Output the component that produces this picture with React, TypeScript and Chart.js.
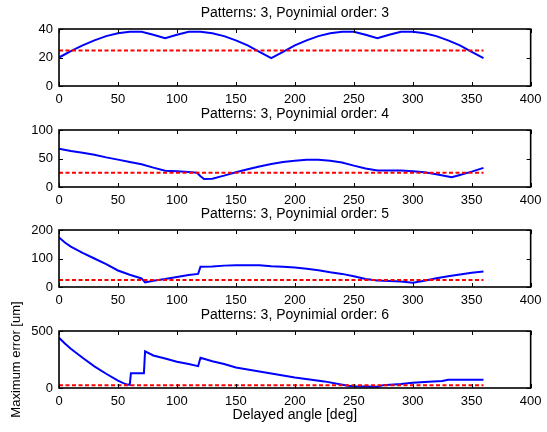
import React, { useEffect, useRef } from "react";
import { Chart, registerables } from "chart.js";

Chart.register(...registerables);

// ---- Data ----
const X_MIN = 0;
const X_MAX = 400;
const X_STEP = 50;

const THRESHOLD_ANGLES = [0, 360];
const THRESHOLD_VALUES = [25, 25];

const TITLES = [
  "Patterns: 3, Poynimial order: 3",
  "Patterns: 3, Poynimial order: 4",
  "Patterns: 3, Poynimial order: 5",
  "Patterns: 3, Poynimial order: 6",
];
const Y_MAXES = [40, 100, 200, 500];
const Y_STEPS = [20, 50, 100, 500];
const X_LABEL = "Delayed angle [deg]";
const Y_LABEL = "Maximum error [um]";

const ANGLE_ORDER3 = [0, 10, 20, 30, 40, 50, 60, 70, 80, 90, 100, 110, 120, 130, 140, 150, 160, 170, 180, 190, 200, 210, 220, 230, 240, 250, 260, 270, 280, 290, 300, 310, 320, 330, 340, 350, 360];
const ERROR_ORDER3 = [20, 24.5, 28.5, 32, 35, 37, 38, 38, 36, 33.5, 36, 38, 38, 37, 35, 32, 28.5, 24, 19.5, 24, 28.5, 32, 35, 37, 38, 38, 36, 33.5, 36, 38, 38, 37, 35, 32, 28.5, 24, 19.5];

const ANGLE_ORDER4 = [0, 10, 20, 30, 40, 50, 60, 70, 80, 90, 100, 110, 117, 120, 123, 130, 140, 150, 160, 170, 180, 190, 200, 210, 220, 230, 240, 250, 260, 270, 280, 290, 300, 310, 320, 333, 340, 350, 360];
const ERROR_ORDER4 = [67, 63, 60, 56.5, 52, 48, 44, 40, 34, 28.5, 27.5, 26.5, 25, 19, 14, 14.5, 20, 26, 31, 36, 40.5, 44, 46, 48, 48, 46, 43, 37.5, 32.5, 29, 29, 29, 27.5, 26, 22.5, 17, 21, 27, 33.5];

const ANGLE_ORDER5 = [0, 5, 10, 20, 30, 40, 50, 60, 70, 73, 80, 90, 100, 110, 118, 120, 130, 140, 150, 160, 170, 180, 190, 200, 210, 220, 230, 240, 250, 260, 270, 280, 290, 300, 310, 320, 330, 340, 350, 360];
const ERROR_ORDER5 = [174, 156, 142, 120, 100, 80, 58, 43, 30, 16, 22, 28, 35, 42, 46, 71, 72, 75, 76, 76, 76, 73, 71, 68, 64, 59, 52, 46, 38, 28, 23, 21, 19, 15, 22, 31, 38, 44, 50, 54];

const ANGLE_ORDER6 = [0, 5, 10, 20, 30, 40, 50, 55, 58, 60, 61, 72, 73, 80, 90, 100, 110, 118, 120, 130, 140, 150, 175, 200, 225, 245, 250, 270, 275, 290, 300, 310, 325, 330, 360];
const ERROR_ORDER6 = [441, 390, 345, 265, 190, 125, 65, 40, 30, 28, 130, 130, 322, 285, 258, 230, 210, 192, 265, 235, 210, 180, 135, 92, 58, 20, 15, 12, 25, 35, 45, 52, 62, 72, 72];

const ANGLES = [ANGLE_ORDER3, ANGLE_ORDER4, ANGLE_ORDER5, ANGLE_ORDER6];
const ERRORS = [ERROR_ORDER3, ERROR_ORDER4, ERROR_ORDER5, ERROR_ORDER6];

// ---- Layout ----
const FONT_FAMILY = "'Liberation Sans', Arial, Helvetica, sans-serif";
const PLOT_TOPS = [29, 130, 230, 331];
const TITLE_SPACE = 29;
const PLOT_H = 57;
const TICK_LEN = 4;

const boxPlugin = {
  id: "matlabBox",
  afterDatasetsDraw(chart: any) {
    const { ctx, chartArea: a, scales } = chart;
    const xs = scales.x;
    const ys = scales.y;
    ctx.save();
    ctx.strokeStyle = "#000";
    ctx.lineWidth = 1;
    ctx.beginPath();
    xs.ticks.forEach((t: any) => {
      const px = Math.round(xs.getPixelForValue(t.value)) + 0.5;
      ctx.moveTo(px, a.bottom);
      ctx.lineTo(px, a.bottom - TICK_LEN);
      ctx.moveTo(px, a.top);
      ctx.lineTo(px, a.top + TICK_LEN);
    });
    ys.ticks.forEach((t: any) => {
      const py = Math.round(ys.getPixelForValue(t.value)) + 0.5;
      ctx.moveTo(a.left, py);
      ctx.lineTo(a.left + TICK_LEN, py);
      ctx.moveTo(a.right, py);
      ctx.lineTo(a.right - TICK_LEN, py);
    });
    ctx.stroke();
    ctx.lineWidth = 1.6;
    ctx.strokeRect(a.left, a.top, a.right - a.left, a.bottom - a.top);
    ctx.restore();
  },
};

function Subplot({ index }: { index: number }) {
  const ref = useRef<HTMLCanvasElement | null>(null);
  const isLast = index === 3;
  const xAxisH = isLast ? 40 : 24;
  const height = TITLE_SPACE + PLOT_H + xAxisH;
  const top = PLOT_TOPS[index] - TITLE_SPACE;

  useEffect(() => {
    if (!ref.current) return;
    const angles = ANGLES[index];
    const errors = ERRORS[index];
    const tickFont = { family: FONT_FAMILY, size: 13, weight: "normal" as const };
    const chart = new Chart(ref.current, {
      type: "line",
      data: {
        datasets: [
          {
            data: THRESHOLD_ANGLES.map((x, i) => ({ x, y: THRESHOLD_VALUES[i] })),
            borderColor: "#ff0000",
            borderWidth: 2,
            borderDash: [4, 2.5],
            pointRadius: 0,
            fill: false,
            tension: 0,
          },
          {
            data: angles.map((x, i) => ({ x, y: errors[i] })),
            borderColor: "#0000ff",
            borderWidth: 2,
            pointRadius: 0,
            fill: false,
            tension: 0,
          },
        ],
      },
      options: {
        responsive: false,
        animation: false,
        devicePixelRatio: 1,
        events: [],
        layout: { padding: { left: 0, right: 14, top: 0, bottom: 0 } },
        plugins: {
          legend: { display: false },
          tooltip: { enabled: false },
          title: {
            display: true,
            fullSize: false,
            text: TITLES[index],
            color: "#000",
            font: { family: FONT_FAMILY, size: 14, weight: "normal" },
            padding: { top: 4.75, bottom: 7.45 },
          },
        },
        scales: {
          x: {
            type: "linear",
            min: X_MIN,
            max: X_MAX,
            ticks: {
              stepSize: X_STEP,
              color: "#000",
              font: tickFont,
              padding: 5.5,
              maxRotation: 0,
              autoSkip: false,
            },
            grid: { display: false, drawTicks: false },
            border: { display: false },
            title: isLast
              ? {
                  display: true,
                  text: X_LABEL,
                  color: "#000",
                  font: { family: FONT_FAMILY, size: 14, weight: "normal" },
                  padding: { top: 0, bottom: 4.1 },
                }
              : { display: false },
            afterFit: (s: any) => {
              s.height = xAxisH;
            },
          },
          y: {
            type: "linear",
            min: 0,
            max: Y_MAXES[index],
            ticks: {
              stepSize: Y_STEPS[index],
              color: "#000",
              font: tickFont,
              padding: 6,
            },
            grid: { display: false, drawTicks: false },
            border: { display: false },
            title: isLast
              ? {
                  display: true,
                  text: Y_LABEL,
                  color: "#000",
                  font: { family: FONT_FAMILY, size: 13, weight: "normal" },
                  padding: { top: 8.2, bottom: 0 },
                }
              : { display: false },
            afterFit: (s: any) => {
              s.width = 59;
            },
          },
        },
      } as any,
      plugins: [boxPlugin],
    });
    return () => chart.destroy();
  }, [index]);

  return (
    <canvas
      ref={ref}
      width={547}
      height={height}
      style={{ position: "absolute", left: 0, top, width: 547, height }}
    />
  );
}

export default function App() {
  return (
    <div
      style={{
        position: "fixed",
        left: 0,
        top: 0,
        width: 547,
        height: 432,
        background: "#ffffff",
        overflow: "hidden",
      }}
    >
      {[0, 1, 2, 3].map((i) => (
        <Subplot key={i} index={i} />
      ))}
    </div>
  );
}
